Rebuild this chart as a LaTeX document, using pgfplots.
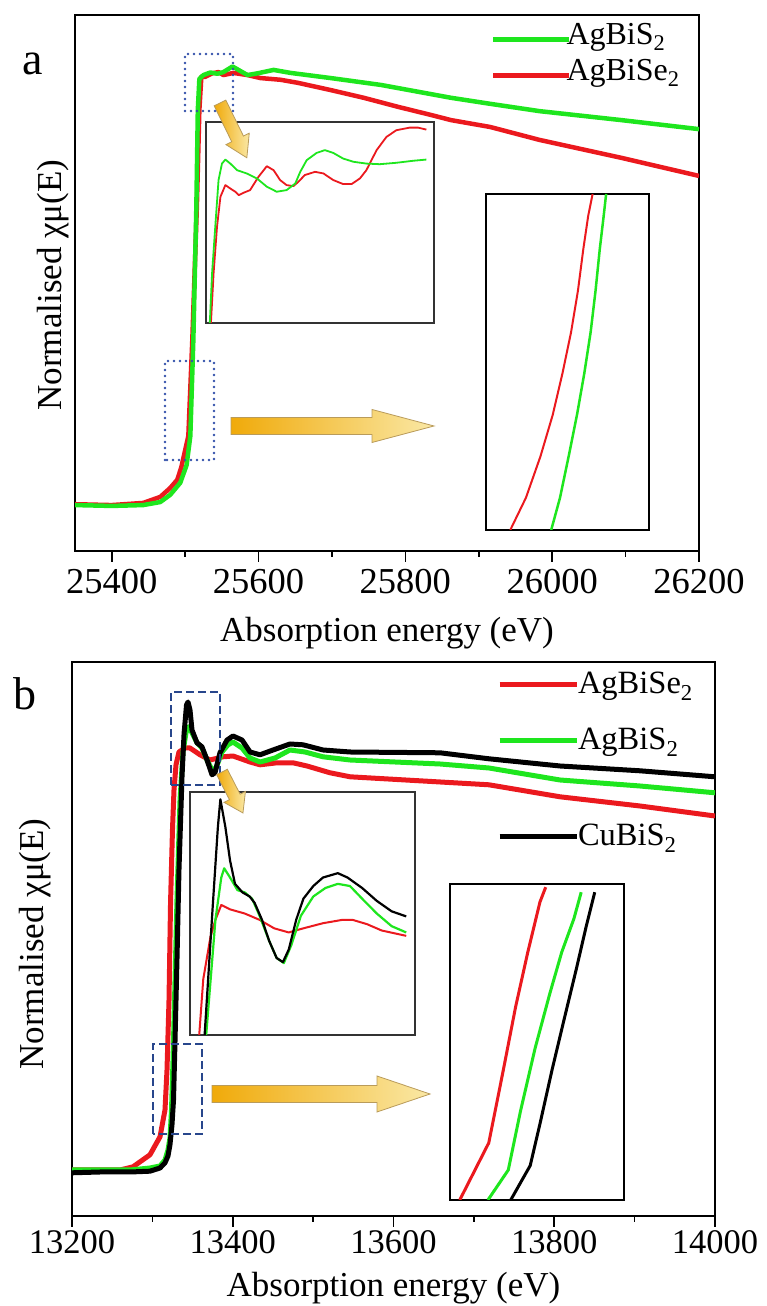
\documentclass[border=0pt]{standalone}
\usepackage{fontspec}
\setmainfont{Liberation Serif}
\usepackage{pgfplots}
\pgfplotsset{compat=1.18}
\usepackage{pgfplotstable}

\definecolor{cgreen}{RGB}{30,230,30}
\definecolor{cred}{RGB}{235,25,30}
\definecolor{dotblue}{RGB}{50,80,170}
\definecolor{dashblue}{RGB}{40,70,140}
\definecolor{arrdark}{RGB}{240,170,10}
\definecolor{arrlight}{RGB}{250,232,165}
\definecolor{arredge}{RGB}{185,155,90}

% ---------- panel a, main ----------
\pgfplotstableread{
E mu
25350.0 0.002
25400.0 0.000
25442.9 0.002
25466.1 0.009
25479.8 0.026
25493.4 0.054
25502.0 0.095
25507.1 0.163
25511.2 0.387
25515.3 0.697
25517.3 0.923
25519.4 0.995
25524.9 1.004
25534.4 1.010
25544.0 1.007
25552.2 1.011
25564.5 1.024
25572.7 1.016
25585.0 1.004
25598.6 1.008
25620.5 1.016
25643.7 1.009
25698.4 0.997
25766.7 0.981
25862.3 0.951
25915.6 0.937
25982.5 0.920
26094.5 0.899
26200.0 0.878
}\aGreen
\pgfplotstableread{
E mu
25350.0 0.004
25400.0 0.002
25442.9 0.007
25466.1 0.021
25479.8 0.042
25489.3 0.061
25494.8 0.090
25504.4 0.163
25509.8 0.387
25516.0 0.697
25519.4 0.923
25522.1 1.000
25527.6 1.000
25536.7 1.008
25545.4 1.011
25552.2 1.004
25565.8 1.009
25585.0 1.004
25602.7 0.997
25630.1 0.993
25653.3 0.986
25698.4 0.969
25743.4 0.951
25789.9 0.930
25835.0 0.911
25862.3 0.899
25915.6 0.883
25982.5 0.853
26094.5 0.811
26200.0 0.769
}\aRed
% ---------- panel a, inset 1 ----------
\pgfplotstableread{
E mu
25505.8 0.9300
25506.0 0.9400
25506.6 0.9648
25507.5 0.9896
25508.3 1.0111
25509.2 1.0193
25510.1 1.0213
25511.4 1.0193
25513.2 1.0160
25515.7 1.0144
25518.4 1.0119
25521.0 1.0078
25523.6 1.0053
25526.2 1.0061
25528.5 1.0094
25529.8 1.0152
25531.5 1.0210
25534.1 1.0246
25536.3 1.0260
25538.5 1.0246
25541.1 1.0218
25543.8 1.0202
25547.2 1.0193
25550.7 1.0190
25555.1 1.0197
25559.5 1.0207
25563.0 1.0213
}\aInGreen
\pgfplotstableread{
E mu
25506.1 0.9300
25506.3 0.9400
25507.0 0.9648
25507.9 0.9879
25508.8 1.0028
25510.1 1.0086
25511.4 1.0069
25512.7 1.0053
25513.6 1.0036
25514.9 1.0048
25516.6 1.0061
25518.8 1.0127
25521.0 1.0180
25522.8 1.0160
25524.5 1.0111
25526.2 1.0086
25528.0 1.0081
25529.3 1.0102
25531.0 1.0136
25533.7 1.0152
25535.9 1.0144
25538.5 1.0111
25541.1 1.0091
25543.3 1.0091
25545.5 1.0119
25547.2 1.0160
25549.9 1.0260
25552.5 1.0326
25555.1 1.0359
25558.6 1.0372
25560.8 1.0372
25563.0 1.0362
}\aInRed
% ---------- panel a, inset 2 ----------
\pgfplotstableread{
E mu
25497.98 0.1000
25499.90 0.1288
25501.68 0.1657
25503.18 0.2026
25504.38 0.2398
25505.44 0.2767
25506.28 0.3136
25506.94 0.3508
25507.54 0.3805
25508.08 0.4000
}\aZoRed
\pgfplotstableread{
E mu
25503.00 0.1000
25504.08 0.1288
25505.14 0.1657
25506.16 0.2026
25507.06 0.2398
25507.84 0.2767
25508.44 0.3136
25508.96 0.3508
25509.44 0.3805
25509.74 0.4000
}\aZoGreen
% ---------- panel b, main ----------
\pgfplotstableread{
E mu
13200.0 -0.002
13234.8 0.000
13272.2 0.000
13297.0 0.002
13309.5 0.010
13315.7 0.023
13319.4 0.040
13321.9 0.068
13324.4 0.118
13326.3 0.180
13328.2 0.330
13330.6 0.530
13333.1 0.755
13336.9 0.990
13339.4 1.095
13342.5 1.168
13344.3 1.175
13346.8 1.155
13349.3 1.105
13355.5 1.073
13361.7 1.063
13368.0 1.030
13374.2 0.993
13377.9 0.998
13384.1 1.048
13392.9 1.080
13400.3 1.090
13411.5 1.080
13421.5 1.050
13433.9 1.043
13450.1 1.055
13471.2 1.070
13487.4 1.068
13512.3 1.055
13545.9 1.050
13657.9 1.048
13718.8 1.033
13807.2 1.015
13906.7 1.003
14000.0 0.988
}\bBlack
\pgfplotstableread{
E mu
13200.0 0.005
13272.2 0.005
13297.0 0.010
13309.5 0.015
13315.7 0.030
13319.4 0.055
13321.9 0.085
13323.8 0.155
13325.7 0.280
13328.2 0.480
13330.6 0.680
13334.4 0.930
13338.1 1.050
13341.8 1.098
13345.0 1.113
13348.1 1.103
13355.5 1.073
13361.7 1.060
13368.0 1.030
13374.2 1.005
13379.2 1.010
13386.6 1.050
13394.1 1.068
13400.3 1.075
13411.5 1.060
13421.5 1.035
13433.9 1.025
13452.6 1.035
13471.2 1.055
13489.9 1.050
13512.3 1.038
13545.9 1.030
13657.9 1.020
13718.8 1.010
13807.2 0.980
13906.7 0.965
14000.0 0.948
}\bGreen
\pgfplotstableread{
E mu
13200.0 0.005
13259.7 0.005
13275.9 0.013
13297.0 0.043
13309.5 0.088
13315.7 0.155
13318.2 0.255
13320.7 0.430
13322.6 0.673
13325.0 0.855
13326.9 0.955
13329.4 1.018
13333.1 1.050
13340.6 1.060
13346.8 1.060
13359.3 1.043
13371.7 1.030
13387.9 1.038
13400.3 1.040
13421.5 1.025
13433.9 1.018
13455.1 1.023
13475.0 1.023
13492.4 1.015
13521.0 0.998
13545.9 0.988
13718.8 0.968
13807.2 0.938
13906.7 0.915
14000.0 0.890
}\bRed
% ---------- panel b, inset 1 ----------
\pgfplotstableread{
E mu
13333.25 0.5000
13335.10 0.8808
13336.20 1.0999
13336.75 1.1790
13337.85 1.0999
13338.90 1.0026
13340.00 0.9354
13341.65 0.9109
13343.25 0.8990
13344.35 0.8808
13346.00 0.8318
13347.60 0.7709
13349.25 0.7219
13350.65 0.7100
13351.95 0.7464
13353.60 0.8318
13355.20 0.8927
13357.40 0.9291
13359.55 0.9536
13362.85 0.9662
13365.00 0.9536
13368.25 0.9235
13371.50 0.8864
13374.80 0.8563
13378.05 0.8416
}\bInBlack
\pgfplotstableread{
E mu
13333.60 0.5000
13335.65 0.8318
13336.95 0.9536
13337.60 0.9802
13338.90 0.9536
13340.55 0.9172
13342.15 0.9109
13343.80 0.8927
13345.45 0.8437
13347.60 0.7709
13349.25 0.7219
13350.85 0.7072
13352.50 0.7583
13354.65 0.8437
13357.40 0.8990
13360.10 0.9235
13362.85 0.9354
13365.55 0.9291
13368.25 0.8927
13371.50 0.8500
13374.80 0.8136
13378.05 0.7954
}\bInGreen
\pgfplotstableread{
E mu
13332.05 0.5000
13332.95 0.6610
13334.55 0.7828
13335.65 0.8318
13336.95 0.8745
13338.90 0.8619
13342.15 0.8500
13345.45 0.8318
13348.70 0.8073
13351.95 0.7954
13355.20 0.8073
13359.55 0.8220
13363.90 0.8318
13366.10 0.8318
13369.35 0.8192
13372.60 0.8010
13378.05 0.7856
}\bInRed
% ---------- panel b, inset 2 ----------
\pgfplotstableread{
E mu
13320.56 0.1000
13322.23 0.1543
13323.07 0.2239
13323.77 0.2833
13324.47 0.3352
13325.17 0.3829
13325.50 0.3970
}\bZoRed
\pgfplotstableread{
E mu
13322.18 0.1000
13323.35 0.1285
13324.05 0.1843
13324.89 0.2440
13325.73 0.2956
13326.42 0.3352
13327.12 0.3670
13327.54 0.3922
}\bZoGreen
\pgfplotstableread{
E mu
13323.49 0.1000
13324.61 0.1327
13325.17 0.1723
13325.87 0.2239
13326.56 0.2716
13327.26 0.3193
13327.82 0.3592
13328.32 0.3922
}\bZoBlack

\pgfplotsset{
  mainax/.style={anchor=south west, scale only axis,
    axis line style={line width=1.6pt},
    ytick=\empty, xtick pos=left, tick align=outside,
    major tick length=11pt, minor tick length=6pt, minor x tick num=1,
    every tick/.style={line width=1.6pt, black},
    scaled x ticks=false,
    /pgf/number format/assume math mode=true,
    /pgf/number format/1000 sep={},
    label style={font=\fontsize{35}{42}\selectfont},
  },
  inax/.style={anchor=south west, scale only axis, xtick=\empty, ytick=\empty,
    axis line style={line width=1.5pt, black!80},
    axis background/.style={fill=white}},
}

\begin{document}
\begin{tikzpicture}[x=1pt,y=1pt]
\path[use as bounding box] (0,0) rectangle (767,1306);

% ================= PANEL A =================
\begin{axis}[mainax, at={(75pt,755pt)}, width=624pt, height=536pt,
  xmin=25350, xmax=26200, ymin=-0.105, ymax=1.144,
  xtick={25400,25600,25800,26000,26200},
  xticklabel style={font=\fontsize{36.5}{40}\selectfont, yshift=-4pt},
  xlabel={Absorption energy (eV)},
  xlabel style={at={(axis description cs:0.5,-0.153)}, anchor=center},
  ylabel={Normalised χμ(E)},
  ylabel style={at={(axis description cs:-0.035,0.496)}, anchor=center},
  legend image code/.code={\draw[#1] (0pt,5pt) -- (76pt,5pt);},
  legend style={draw=none, fill=none, at={(0.6667,0.9894)}, anchor=north west,
    inner sep=0pt, outer sep=0pt, row sep=2pt, column sep=-6pt,
    font=\fontsize{32}{36}\selectfont,
    nodes={inner sep=1pt, text height=23pt, text depth=9pt},
    cells={anchor=base west}},
]
\addlegendimage{cgreen, line width=4.5pt}
\addlegendentry{AgBiS\textsubscript{2}}
\addlegendimage{cred, line width=4.5pt}
\addlegendentry{AgBiSe\textsubscript{2}}
\addplot[cred, line width=4.5pt, line join=round, forget plot] table[x=E,y=mu] {\aRed};
\addplot[cgreen, line width=4.5pt, line join=round, forget plot] table[x=E,y=mu] {\aGreen};
\end{axis}

\begin{axis}[inax, at={(206pt,983pt)}, width=228pt, height=201pt,
  xmin=25505, xmax=25565, ymin=0.94, ymax=1.04]
\addplot[cred, line width=1.8pt, line join=round] table[x=E,y=mu] {\aInRed};
\addplot[cgreen, line width=1.8pt, line join=round] table[x=E,y=mu] {\aInGreen};
\end{axis}

\begin{axis}[inax, axis line style={line width=1.5pt, black}, at={(486pt,776pt)}, width=163pt, height=336pt,
  xmin=25495, xmax=25515, ymin=0.1, ymax=0.4]
\addplot[cred, line width=2pt, line join=round] table[x=E,y=mu] {\aZoRed};
\addplot[cgreen, line width=2.5pt, line join=round] table[x=E,y=mu] {\aZoGreen};
\end{axis}

\draw[dotblue, line width=2.6pt, dash pattern=on 0pt off 6pt, line cap=round] (185,1195) rectangle (233,1252);
\draw[dotblue, line width=2.6pt, dash pattern=on 0pt off 6pt, line cap=round] (165,846) rectangle (214,945);

\shadedraw[left color=arrdark, right color=arrlight, draw=arredge, line width=0.8pt]
  (231,871.5) -- (372,871.5) -- (372,863.5) -- (434,880) -- (372,896.5) -- (372,888.5) -- (231,888.5) -- cycle;
\begin{scope}[shift={(220,1203)}, rotate=-63.9]
\shadedraw[left color=arrdark, right color=arrlight, draw=arredge, line width=0.8pt]
  (0,-6.5) -- (40,-6.5) -- (40,-13) -- (61,0) -- (40,13) -- (40,6.5) -- (0,6.5) -- cycle;
\end{scope}

\node[font=\fontsize{46}{50}\selectfont] at (33,1242) {a};

% ================= PANEL B =================
\begin{axis}[mainax, at={(72pt,90pt)}, width=643pt, height=554pt,
  xmin=13200, xmax=14000, ymin=-0.11, ymax=1.275,
  xtick={13200,13400,13600,13800,14000},
  xticklabel style={font=\fontsize{34.5}{40}\selectfont},
  xlabel={Absorption energy (eV)},
  xlabel style={at={(axis description cs:0.5,-0.13)}, anchor=center},
  ylabel={Normalised χμ(E)},
  ylabel style={at={(axis description cs:-0.058,0.491)}, anchor=center},
  legend image code/.code={\draw[#1] (0pt,9pt) -- (77pt,9pt);},
  legend style={draw=none, fill=none, at={(0.661,0.9856)}, anchor=north west,
    inner sep=0pt, outer sep=0pt, row sep=22pt, column sep=-2pt,
    font=\fontsize{32.5}{36}\selectfont,
    nodes={inner sep=1pt, text height=23pt, text depth=9pt},
    cells={anchor=base west}},
]
\addplot[cred, line width=5pt, line join=round] table[x=E,y=mu] {\bRed};
\addlegendentry{AgBiSe\textsubscript{2}}
\addplot[cgreen, line width=5pt, line join=round] table[x=E,y=mu] {\bGreen};
\addlegendentry{AgBiS\textsubscript{2}}
\addplot[black, line width=5pt, line join=round, forget plot] table[x=E,y=mu] {\bBlack};
\end{axis}

\begin{axis}[at={(72pt,90pt)}, anchor=south west, scale only axis, width=643pt, height=554pt,
  hide axis, xmin=0, xmax=1, ymin=0, ymax=1,
  legend image code/.code={\draw[#1] (0pt,9pt) -- (77pt,9pt);},
  legend style={draw=none, fill=none, at={(0.661,0.7112)}, anchor=north west,
    inner sep=0pt, outer sep=0pt, column sep=-2pt,
    font=\fontsize{32.5}{36}\selectfont,
    nodes={inner sep=1pt, text height=23pt, text depth=9pt},
    cells={anchor=base west}},
]
\addlegendimage{black, line width=5pt}
\addlegendentry{CuBiS\textsubscript{2}}
\end{axis}

\begin{axis}[inax, at={(190pt,271pt)}, width=225pt, height=243pt,
  xmin=13330, xmax=13380, ymin=0.5, ymax=1.2]
\addplot[cred, line width=2pt, line join=round] table[x=E,y=mu] {\bInRed};
\addplot[cgreen, line width=2.2pt, line join=round] table[x=E,y=mu] {\bInGreen};
\addplot[black, line width=2.2pt, line join=round] table[x=E,y=mu] {\bInBlack};
\end{axis}

\begin{axis}[inax, axis line style={line width=1.5pt, black}, at={(450pt,106pt)}, width=174pt, height=316pt,
  xmin=13320, xmax=13330, ymin=0.1, ymax=0.4]
\addplot[cred, line width=3pt, line join=round] table[x=E,y=mu] {\bZoRed};
\addplot[cgreen, line width=3pt, line join=round] table[x=E,y=mu] {\bZoGreen};
\addplot[black, line width=3pt, line join=round] table[x=E,y=mu] {\bZoBlack};
\end{axis}

\draw[dashblue, line width=2.6pt, dash pattern=on 8pt off 4pt] (171,521) rectangle (220,614);
\draw[dashblue, line width=2.6pt, dash pattern=on 8pt off 4pt] (153,172) rectangle (202,262);

\shadedraw[left color=arrdark, right color=arrlight, draw=arredge, line width=0.8pt]
  (212,203.5) -- (377,203.5) -- (377,194) -- (430,212) -- (377,230) -- (377,220.5) -- (212,220.5) -- cycle;
\begin{scope}[shift={(222,534)}, rotate=-62.9]
\shadedraw[left color=arrdark, right color=arrlight, draw=arredge, line width=0.8pt]
  (0,-6) -- (28,-6) -- (28,-12) -- (46,0) -- (28,12) -- (28,6) -- (0,6) -- cycle;
\end{scope}

\node[font=\fontsize{46}{50}\selectfont] at (25,612) {b};
\end{tikzpicture}
\end{document}
